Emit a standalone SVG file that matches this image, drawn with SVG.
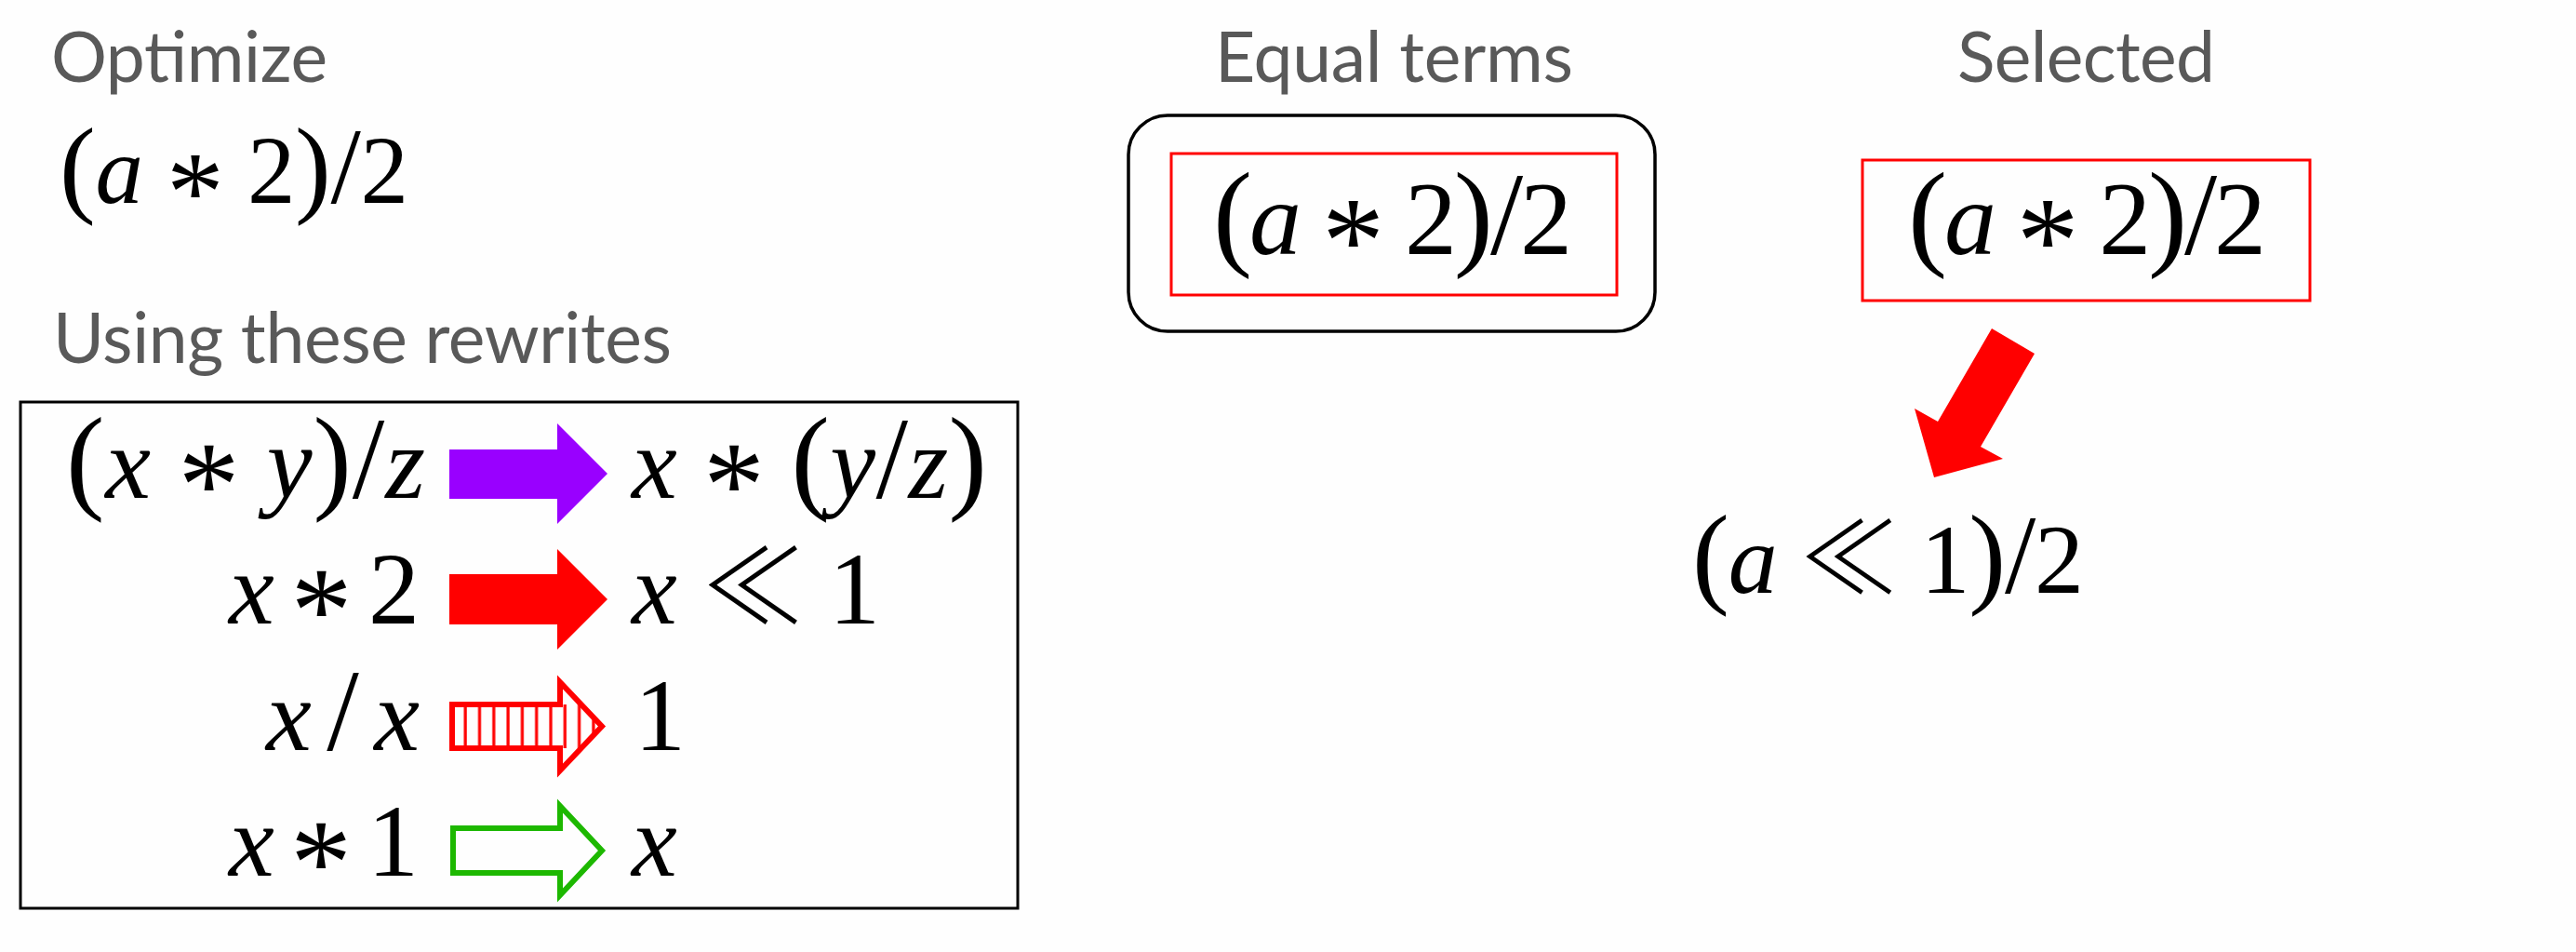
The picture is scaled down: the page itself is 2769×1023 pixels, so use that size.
<svg xmlns="http://www.w3.org/2000/svg" width="2769" height="1023" viewBox="0 0 2769 1023">
<style>
.lbl{font-family:Lato,"Open Sans",sans-serif;font-size:75px;fill:#595959}
.m{font-family:"Liberation Serif","DejaVu Serif",serif;fill:#000}
.v{font-style:italic}
.p{font-size:1.13em}
.a{font-size:1.2em}
.ll{font-family:"Noto Sans CJK JP","Noto Sans CJK SC","DejaVu Sans",sans-serif;font-weight:300}
</style>
<defs>
<pattern id="stripes" patternUnits="userSpaceOnUse" x="0" y="0" width="15.3" height="10">
<rect x="9" y="0" width="3.2" height="10" fill="#ff0000"/>
</pattern>
<clipPath id="stripeClip">
<path d="M486,757 H602 V733 L647,780.5 L602,828 V804 H486 Z"/>
</clipPath>
</defs>
<rect width="2769" height="1023" fill="#fefefe"/>

<g id="title-optimize"><text class="lbl" x="55" y="88" textLength="297" lengthAdjust="spacing">Optimize</text></g>
<g id="input-expr"><text class="m" x="64" y="218" font-size="103" textLength="375" lengthAdjust="spacing"><tspan class="p">(</tspan><tspan class="v">a</tspan> <tspan class="a" dy="29">*</tspan> <tspan dy="-29">2</tspan><tspan class="p">)</tspan><tspan class="p">/</tspan>2</text></g>
<g id="title-rewrites"><text class="lbl" x="57" y="390" textLength="665" lengthAdjust="spacing">Using these rewrites</text></g>

<g id="rewrites">
<rect x="22" y="432" width="1072" height="544" fill="none" stroke="#000" stroke-width="3"/>
<text class="m" x="71" y="535" font-size="110" textLength="386" lengthAdjust="spacing"><tspan class="p">(</tspan><tspan class="v">x</tspan> <tspan class="a" dy="30">*</tspan> <tspan class="v" dy="-30">y</tspan><tspan class="p">)</tspan><tspan class="p">/</tspan><tspan class="v">z</tspan></text>
<text class="m" x="679" y="535" font-size="110" textLength="382" lengthAdjust="spacing"><tspan class="v">x</tspan> <tspan class="a" dy="30">*</tspan> <tspan class="p" dy="-30">(</tspan><tspan class="v">y</tspan><tspan class="p">/</tspan><tspan class="v">z</tspan><tspan class="p">)</tspan></text>
<text class="m" x="246" y="670" font-size="110" textLength="205" lengthAdjust="spacing"><tspan class="v">x</tspan> <tspan class="a" dy="30">*</tspan> <tspan dy="-30">2</tspan></text>
<text class="m" x="679" y="670" font-size="110" textLength="267" lengthAdjust="spacing"><tspan class="v">x</tspan> <tspan class="ll">≪</tspan> 1</text>
<text class="m" x="286" y="806" font-size="110" textLength="165" lengthAdjust="spacing"><tspan class="v">x</tspan><tspan class="p">/</tspan><tspan class="v">x</tspan></text>
<text class="m" x="682" y="806" font-size="110">1</text>
<text class="m" x="246" y="941" font-size="110" textLength="204" lengthAdjust="spacing"><tspan class="v">x</tspan> <tspan class="a" dy="30">*</tspan> <tspan dy="-30">1</tspan></text>
<text class="m v" x="679" y="941" font-size="110">x</text>
</g>

<g id="rule-arrows">
<polygon points="483,483 599,483 599,455 653,509 599,563 599,536 483,536" fill="#9900ff"/>
<polygon points="483,617 599,617 599,590 653,644 599,698 599,671 483,671" fill="#ff0000"/>
<rect x="486" y="757" width="170" height="47" fill="url(#stripes)" clip-path="url(#stripeClip)"/>
<path d="M486,757 H602 V733 L647,780.5 L602,828 V804 H486 Z" fill="none" stroke="#ff0000" stroke-width="6"/>
<path d="M487,890 H602 V866 L647,914 L602,962 V938 H487 Z" fill="none" stroke="#1db800" stroke-width="6"/>
</g>

<g id="title-equal"><text class="lbl" x="1306" y="88" textLength="385" lengthAdjust="spacing">Equal terms</text></g>
<g id="equal-class">
<rect x="1213" y="124" width="566" height="232" rx="42" ry="42" fill="none" stroke="#000" stroke-width="3.5"/>
<rect x="1259" y="165" width="479" height="152" fill="none" stroke="#ff0000" stroke-width="3"/>
<text class="m" x="1304" y="273" font-size="112" textLength="386" lengthAdjust="spacing"><tspan class="p">(</tspan><tspan class="v">a</tspan> <tspan class="a" dy="31">*</tspan> <tspan dy="-31">2</tspan><tspan class="p">)</tspan><tspan class="p">/</tspan>2</text>
</g>

<g id="title-selected"><text class="lbl" x="2104" y="88" textLength="277" lengthAdjust="spacing">Selected</text></g>
<g id="selected">
<rect x="2002" y="172" width="481" height="151" fill="none" stroke="#ff0000" stroke-width="3"/>
<text class="m" x="2051" y="273" font-size="112" textLength="385" lengthAdjust="spacing"><tspan class="p">(</tspan><tspan class="v">a</tspan> <tspan class="a" dy="31">*</tspan> <tspan dy="-31">2</tspan><tspan class="p">)</tspan><tspan class="p">/</tspan>2</text>
</g>

<g id="connectors">
<polygon points="2141,353 2187,380 2129,480 2153,493 2079,513 2058,439 2083,453" fill="#ff0000"/>
</g>

<g id="result"><text class="m" x="1819" y="637" font-size="106" textLength="421" lengthAdjust="spacing"><tspan class="p">(</tspan><tspan class="v">a</tspan> <tspan class="ll">≪</tspan> 1<tspan class="p">)</tspan><tspan class="p">/</tspan>2</text></g>
</svg>
